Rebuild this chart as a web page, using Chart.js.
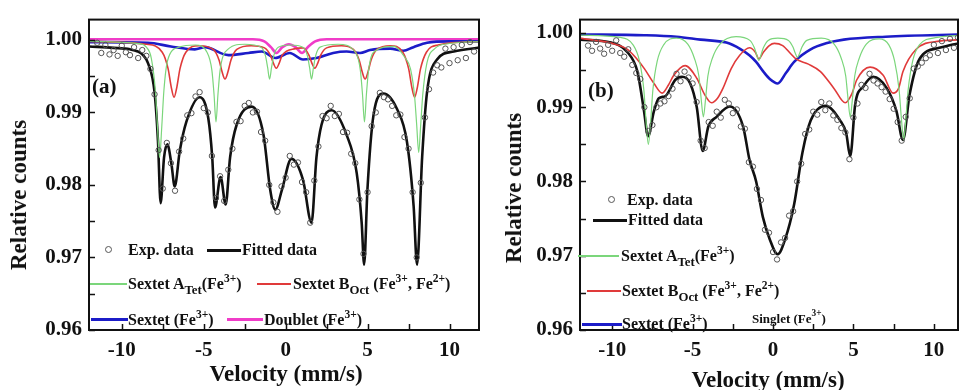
<!DOCTYPE html>
<html>
<head>
<meta charset="utf-8">
<script src="https://cdn.jsdelivr.net/npm/chart.js@4.4.1/dist/chart.umd.min.js"></script>
<style>
  body { margin: 0; width: 963px; height: 390px; background: #fff; position: relative; overflow: hidden;
         font-family: 'Liberation Serif', 'Times New Roman', serif; font-weight: bold; color: #111; }
  .box { position: absolute; top: 0; height: 390px; }
  .txt { position: absolute; font-size: 16px; line-height: 20px; white-space: nowrap; }
  .txt sub { font-size: 80%; vertical-align: -5px; line-height: 0; }
  .txt sup { font-size: 72%; vertical-align: 7px; line-height: 0; }
  .ln { position: absolute; }
  .dot { position: absolute; width: 5px; height: 5px; border: 1px solid #555; border-radius: 50%; }
  .ytitle { position: absolute; font-size: 23px; white-space: nowrap; transform: translate(-50%, -50%) rotate(-90deg); }
  .xtitle { position: absolute; font-size: 23px; white-space: nowrap; transform: translate(-50%, -50%); }
  .tag { position: absolute; font-size: 21px; }
</style>
</head>
<body>
<div class="box" style="left:0;width:490px"><canvas id="chartA"></canvas></div>
<div class="box" style="left:490px;width:473px"><canvas id="chartB"></canvas></div>

<div class="tag" style="left:92px;top:74px">(a)</div>
<div class="tag" style="left:588px;top:78px">(b)</div>
<div class="ytitle" style="left:19px;top:195px">Relative counts</div>
<div class="ytitle" style="left:514px;top:188px">Relative counts</div>
<div class="xtitle" style="left:286px;top:374px">Velocity (mm/s)</div>
<div class="xtitle" style="left:768px;top:380px">Velocity (mm/s)</div>

<!-- legend (a) -->
<div class="dot" style="left:105px;top:246px"></div>
<div class="txt" style="left:128px;top:240px">Exp. data</div>
<div class="ln" style="left:207px;top:249px;width:34px;height:2.5px;background:#111"></div>
<div class="txt" style="left:242px;top:240px">Fitted data</div>
<div class="ln" style="left:90px;top:283px;width:37px;height:1.5px;background:#7bd67b"></div>
<div class="txt" style="left:128px;top:274px">Sextet A<sub>Tet</sub>(Fe<sup>3+</sup>)</div>
<div class="ln" style="left:257px;top:283px;width:34px;height:1.5px;background:#e03a3a"></div>
<div class="txt" style="left:293px;top:274px">Sextet B<sub>Oct</sub> (Fe<sup>3+</sup>, Fe<sup>2+</sup>)</div>
<div class="ln" style="left:91px;top:318px;width:37px;height:3px;background:#1c1cc8"></div>
<div class="txt" style="left:128px;top:310px">Sextet (Fe<sup>3+</sup>)</div>
<div class="ln" style="left:227px;top:318px;width:36px;height:3px;background:#f03cc8"></div>
<div class="txt" style="left:264px;top:310px">Doublet (Fe<sup>3+</sup>)</div>

<!-- legend (b) -->
<div class="dot" style="left:608px;top:196px"></div>
<div class="txt" style="left:627px;top:190px">Exp. data</div>
<div class="ln" style="left:593px;top:219px;width:34px;height:2.5px;background:#111"></div>
<div class="txt" style="left:628px;top:210px">Fitted data</div>
<div class="ln" style="left:578px;top:255px;width:41px;height:1.5px;background:#7bd67b"></div>
<div class="txt" style="left:621px;top:246px">Sextet A<sub>Tet</sub>(Fe<sup>3+</sup>)</div>
<div class="ln" style="left:587px;top:290px;width:34px;height:1.5px;background:#e03a3a"></div>
<div class="txt" style="left:622px;top:281px">Sextet B<sub>Oct</sub> (Fe<sup>3+</sup>, Fe<sup>2+</sup>)</div>
<div class="ln" style="left:582px;top:323px;width:40px;height:3px;background:#1c1cc8"></div>
<div class="txt" style="left:622px;top:314px">Sextet (Fe<sup>3+</sup>)</div>
<div class="txt" style="left:752px;top:309px;font-size:13px">Singlet (Fe<sup>3+</sup>)</div>

<script>
// measured velocity channels (mm/s), shared by both spectra
const expVelocity = [
  -11.5, -11.25, -11, -10.75, -10.5, -10.25, -10, -9.75, -9.5, -9.25, -9, -8.75, -8.5, -8.25, -8, -7.75,
  -7.5, -7.25, -7, -6.75, -6.5, -6.25, -6, -5.75, -5.5, -5.25, -5, -4.75, -4.5, -4.25, -4, -3.75,
  -3.5, -3.25, -3, -2.75, -2.5, -2.25, -2, -1.75, -1.5, -1.25, -1, -0.75, -0.5, -0.25, 0, 0.25,
  0.5, 0.75, 1, 1.25, 1.5, 1.75, 2, 2.25, 2.5, 2.75, 3, 3.25, 3.5, 3.75, 4, 4.25,
  4.5, 4.75, 5, 5.25, 5.5, 5.75, 6, 6.25, 6.5, 6.75, 7, 7.25, 7.5, 7.75, 8, 8.25,
  8.5, 8.75, 9, 9.25, 9.5, 9.75, 10, 10.25, 10.5, 10.75, 11, 11.25, 11.5
];

// (a) spectrum
const expCountsA = [
  0.9996, 0.9982, 0.9993, 0.9980, 0.9986, 0.9978, 0.9992, 0.9983, 0.9979, 0.9990, 0.9975, 0.9986, 0.9978, 0.9960, 0.9925, 0.9848,
  0.9795, 0.9858, 0.9830, 0.9792, 0.9846, 0.9864, 0.9896, 0.9899, 0.9922, 0.9928, 0.9906, 0.9900, 0.9840, 0.9782, 0.9812, 0.9778,
  0.9821, 0.9850, 0.9887, 0.9888, 0.9909, 0.9913, 0.9900, 0.9901, 0.9873, 0.9861, 0.9800, 0.9776, 0.9763, 0.9798, 0.9810, 0.9840,
  0.9828, 0.9831, 0.9804, 0.9790, 0.9748, 0.9806, 0.9853, 0.9895, 0.9892, 0.9909, 0.9895, 0.9898, 0.9873, 0.9872, 0.9843, 0.9830,
  0.9780, 0.9705, 0.9790, 0.9881, 0.9900, 0.9927, 0.9921, 0.9918, 0.9909, 0.9896, 0.9897, 0.9866, 0.9850, 0.9790, 0.9700, 0.9803,
  0.9893, 0.9932, 0.9955, 0.9965, 0.9962, 0.9988, 0.9968, 0.9990, 0.9972, 0.9993, 0.9975, 0.9997, 0.9984
];
const fitA = [
  [-12, 0.9991], [-10.5, 0.9989], [-9.5, 0.9987], [-9.02, 0.9984], [-8.7, 0.9979], [-8.4, 0.9968], [-8.0, 0.9928],
  [-7.79, 0.9860], [-7.63, 0.9775], [-7.42, 0.9838], [-7.22, 0.9856], [-6.97, 0.9829], [-6.77, 0.9798], [-6.46, 0.9847],
  [-6.06, 0.9887], [-5.24, 0.9921], [-4.72, 0.9892], [-4.48, 0.9838], [-4.31, 0.9769], [-3.97, 0.9811], [-3.66, 0.9773],
  [-3.39, 0.9838], [-2.99, 0.9883], [-2.07, 0.9908], [-1.35, 0.9869], [-0.94, 0.9793], [-0.63, 0.9766], [-0.23, 0.9793],
  [0.35, 0.9836], [1.06, 0.9807], [1.58, 0.9748], [1.88, 0.9838], [2.19, 0.9883], [2.80, 0.9903], [3.72, 0.9869],
  [4.34, 0.9816], [4.64, 0.9748], [4.79, 0.9690], [4.99, 0.9793], [5.36, 0.9896], [5.97, 0.9926], [6.79, 0.9905],
  [7.40, 0.9860], [7.81, 0.9771], [8.02, 0.9690], [8.33, 0.9838], [8.63, 0.9928], [9.24, 0.9973], [10.26, 0.9984], [12, 0.9990]
];
const sextetTetA = [
  [-12, 0.9998], [-9, 0.9995], [-8.5, 0.9990], [-8.2, 0.9975], [-7.95, 0.9930], [-7.82, 0.9880], [-7.69, 0.9838],
  [-7.56, 0.9880], [-7.43, 0.9930], [-7.2, 0.9972], [-6.5, 0.9990], [-5.5, 0.9993],
  [-4.8, 0.9983], [-4.5, 0.9958], [-4.37, 0.9925], [-4.25, 0.9887], [-4.13, 0.9925], [-4.0, 0.9958], [-3.7, 0.9983], [-2.5, 0.9994],
  [-1.5, 0.9990], [-1.23, 0.9978], [-1.1, 0.9962], [-0.98, 0.9946], [-0.86, 0.9962], [-0.73, 0.9978], [-0.45, 0.9990], [0.3, 0.9993],
  [1.05, 0.9990], [1.33, 0.9978], [1.46, 0.9962], [1.58, 0.9946], [1.7, 0.9962], [1.83, 0.9978], [2.1, 0.9990], [3.2, 0.9994],
  [4.26, 0.9983], [4.56, 0.9958], [4.69, 0.9925], [4.81, 0.9887], [4.93, 0.9925], [5.06, 0.9958], [5.36, 0.9983], [6.6, 0.9991],
  [7.3, 0.9975], [7.62, 0.9960], [7.87, 0.9922], [8.0, 0.9882], [8.12, 0.9845], [8.24, 0.9882], [8.37, 0.9925], [8.62, 0.9968],
  [9.1, 0.9988], [10, 0.9995], [12, 0.9998]
];
const sextetOctA = [
  [-12, 0.9998], [-8.5, 0.9994], [-7.53, 0.9983], [-7.17, 0.9960], [-6.99, 0.9936], [-6.81, 0.9921], [-6.63, 0.9936],
  [-6.45, 0.9960], [-6.09, 0.9983], [-5.3, 0.9992],
  [-4.42, 0.9987], [-4.06, 0.9972], [-3.88, 0.9956], [-3.70, 0.9946], [-3.52, 0.9956], [-3.34, 0.9972], [-2.98, 0.9987], [-2.1, 0.9992],
  [-1.29, 0.9989], [-0.93, 0.9979], [-0.75, 0.9968], [-0.57, 0.9961], [-0.39, 0.9968], [-0.21, 0.9979], [0.6, 0.9988],
  [1.06, 0.9989], [1.42, 0.9979], [1.6, 0.9968], [1.78, 0.9961], [1.96, 0.9968], [2.14, 0.9979], [2.5, 0.9989], [3.4, 0.9992],
  [4.13, 0.9987], [4.49, 0.9972], [4.67, 0.9956], [4.85, 0.9946], [5.03, 0.9956], [5.21, 0.9972], [5.57, 0.9987], [6.4, 0.9992],
  [7.15, 0.9983], [7.51, 0.9960], [7.69, 0.9936], [7.87, 0.9921], [8.05, 0.9936], [8.23, 0.9960], [8.59, 0.9983],
  [9.3, 0.9993], [12, 0.9998]
];
const sextetFe3A = [
  [-12, 0.9997], [-8.4, 0.9996], [-7.0, 0.9991], [-5.54, 0.9987], [-4.93, 0.9990], [-3.5, 0.9979], [-2.27, 0.9982],
  [-1.45, 0.9984], [-0.63, 0.9975], [0.25, 0.9982], [1.06, 0.9973], [1.88, 0.9975], [2.9, 0.9982], [3.72, 0.9984],
  [4.54, 0.9982], [5.15, 0.9986], [6.38, 0.9988], [7.18, 0.9985], [7.8, 0.9990], [8.63, 0.9996], [10, 0.9998], [12, 0.9998]
];
const doubletA = [
  [-12, 1.0001], [-2, 1.0001], [-1.3, 0.9998], [-0.9, 0.9990], [-0.55, 0.9982], [-0.2, 0.9990], [0.2, 0.9994],
  [0.6, 0.9990], [1.0, 0.9982], [1.35, 0.9990], [1.8, 0.9998], [2.5, 1.0001], [12, 1.0001]
];

// (b) spectrum
const expCountsB = [
  0.9983, 0.9976, 0.9988, 0.9979, 0.9972, 0.9984, 0.9976, 0.9990, 0.9973, 0.9968, 0.9978, 0.9957, 0.9946, 0.9938, 0.9900, 0.9868,
  0.9876, 0.9900, 0.9905, 0.9908, 0.9915, 0.9925, 0.9945, 0.9935, 0.9948, 0.9940, 0.9932, 0.9907, 0.9855, 0.9845, 0.9880, 0.9875,
  0.9894, 0.9886, 0.9910, 0.9905, 0.9892, 0.9897, 0.9874, 0.9871, 0.9826, 0.9820, 0.9790, 0.9775, 0.9735, 0.9731, 0.9705, 0.9695,
  0.9718, 0.9724, 0.9754, 0.9760, 0.9800, 0.9824, 0.9864, 0.9870, 0.9894, 0.9890, 0.9907, 0.9896, 0.9905, 0.9889, 0.9883, 0.9872,
  0.9866, 0.9830, 0.9886, 0.9905, 0.9930, 0.9926, 0.9945, 0.9936, 0.9932, 0.9927, 0.9921, 0.9911, 0.9898, 0.9880, 0.9855, 0.9887,
  0.9912, 0.9952, 0.9955, 0.9960, 0.9966, 0.9970, 0.9984, 0.9973, 0.9989, 0.9977, 0.9992, 0.9980, 0.9994
];
const fitB = [
  [-12, 0.9991], [-10.07, 0.9987], [-9.05, 0.9974], [-8.43, 0.9948], [-8.02, 0.9895], [-7.77, 0.9861], [-7.40, 0.9895],
  [-7.10, 0.9912], [-6.69, 0.9915], [-6.07, 0.9937], [-5.66, 0.9941], [-5.15, 0.9932], [-4.74, 0.9900], [-4.37, 0.9841],
  [-4.02, 0.9874], [-3.51, 0.9887], [-2.69, 0.9901], [-1.86, 0.9874], [-1.47, 0.9830], [-1.05, 0.9800], [-0.63, 0.9752],
  [-0.2, 0.9722], [0.29, 0.9702], [0.75, 0.9722], [1.31, 0.9769], [1.83, 0.9839], [2.34, 0.9882], [3.26, 0.9902],
  [4.18, 0.9882], [4.55, 0.9865], [4.80, 0.9834], [5.11, 0.9904], [5.62, 0.9928], [6.23, 0.9941], [7.06, 0.9926],
  [7.67, 0.9895], [8.08, 0.9856], [8.49, 0.9917], [9.11, 0.9965], [10.34, 0.9980], [12, 0.9988]
];
const sextetTetB = [
  [-12, 0.9997], [-9.5, 0.9994], [-8.7, 0.9984], [-8.3, 0.9962], [-8.03, 0.9923], [-7.89, 0.9880], [-7.75, 0.9850],
  [-7.61, 0.9880], [-7.47, 0.9923], [-7.2, 0.9962], [-6.8, 0.9984], [-6.0, 0.9993],
  [-5.3, 0.9985], [-4.89, 0.9966], [-4.61, 0.9942], [-4.47, 0.9912], [-4.33, 0.9887], [-4.19, 0.9912], [-4.05, 0.9942],
  [-3.77, 0.9966], [-3.3, 0.9985], [-2.3, 0.9995],
  [-1.44, 0.9990], [-1.16, 0.9980], [-1.02, 0.9971], [-0.88, 0.9963], [-0.74, 0.9971], [-0.6, 0.9980], [-0.3, 0.9990], [0.3, 0.9993],
  [0.96, 0.9990], [1.24, 0.9981], [1.38, 0.9973], [1.52, 0.9967], [1.66, 0.9973], [1.8, 0.9981], [2.1, 0.9990], [3.0, 0.9993],
  [3.8, 0.9985], [4.24, 0.9966], [4.52, 0.9942], [4.66, 0.9912], [4.80, 0.9887], [4.94, 0.9912], [5.08, 0.9942],
  [5.36, 0.9966], [5.8, 0.9985], [6.6, 0.9992],
  [7.2, 0.9984], [7.56, 0.9962], [7.84, 0.9923], [7.98, 0.9885], [8.12, 0.9856], [8.26, 0.9885], [8.4, 0.9923],
  [8.68, 0.9962], [9.1, 0.9984], [10.2, 0.9994], [12, 0.9997]
];
const sextetOctB = [
  [-12, 0.9993], [-10, 0.9986], [-9.05, 0.9978], [-8.5, 0.9966], [-8.0, 0.9952], [-7.4, 0.9932], [-6.89, 0.9919],
  [-6.5, 0.9930], [-6.17, 0.9943], [-5.46, 0.9956], [-4.74, 0.9939], [-4.25, 0.9917], [-3.82, 0.9906], [-3.45, 0.9912],
  [-3.10, 0.9926], [-2.6, 0.9952], [-2.07, 0.9970], [-1.46, 0.9980], [-1.1, 0.9974], [-0.88, 0.9965], [-0.6, 0.9974],
  [-0.23, 0.9983], [0.08, 0.9986], [0.6, 0.9983], [1.1, 0.9972], [1.42, 0.9965], [2.2, 0.9958], [2.95, 0.9948],
  [3.8, 0.9925], [4.49, 0.9906], [4.9, 0.9918], [5.21, 0.9937], [6.03, 0.9954], [6.85, 0.9943], [7.46, 0.9919],
  [7.8, 0.9925], [8.08, 0.9948], [8.9, 0.9978], [10.34, 0.9989], [12, 0.9991]
];
const sextetFe3B = [
  [-12, 0.9998], [-8, 0.9997], [-6, 0.9995], [-4.5, 0.9991], [-2.9, 0.9987], [-2.0, 0.9978], [-1.47, 0.9970],
  [-1.05, 0.9961], [-0.6, 0.9948], [-0.2, 0.9938], [0.29, 0.9932], [0.8, 0.9946], [1.31, 0.9961], [2.34, 0.9978],
  [3.3, 0.9986], [4.4, 0.9991], [7, 0.9995], [12, 0.9998]
];

const velTicks = [-10, -5, 0, 5, 10];
const countTicks = [0.96, 0.97, 0.98, 0.99, 1.00];

const pts = arr => arr.map(p => ({ x: p[0], y: p[1] }));
const expPts = counts => expVelocity.map((v, i) => ({ x: v, y: counts[i] }));

// inward ticks and closed frame
const frameTicks = {
  id: 'frameTicks',
  afterDraw(chart) {
    const { ctx, chartArea: a, scales: { x, y } } = chart;
    ctx.save();
    ctx.strokeStyle = '#111';
    ctx.lineWidth = 1.5;
    ctx.beginPath();
    y.ticks.forEach(t => {
      if (Math.abs(Math.round(t.value * 200) - t.value * 200) > 1e-6) return;
      const py = Math.round(y.getPixelForValue(t.value)) + 0.5;
      ctx.moveTo(a.left, py); ctx.lineTo(a.left + 6, py);
    });
    x.ticks.forEach(t => {
      if (Math.abs(Math.round(t.value / 2.5) - t.value / 2.5) > 1e-6) return;
      const px = Math.round(x.getPixelForValue(t.value)) + 0.5;
      ctx.moveTo(px, a.bottom); ctx.lineTo(px, a.bottom - 6);
    });
    ctx.stroke();
    ctx.lineWidth = 2;
    ctx.strokeRect(a.left, a.top, a.right - a.left, a.bottom - a.top);
    ctx.restore();
  }
};

const tickFont = { family: "'Liberation Serif', serif", weight: 'bold', size: 21 };

function makeChart(id, exp, fit, tet, oct, fe3, extra, yMax, xMax, yWidth, pad) {
  const lineSet = (data, color, width) => ({
    type: 'line', data: pts(data), borderColor: color, borderWidth: width, pointRadius: 0,
    cubicInterpolationMode: 'monotone', fill: false
  });
  const datasets = [
    { label: 'Exp. data', data: expPts(exp), showLine: false, pointRadius: 2.7, pointBorderWidth: 1,
      pointBorderColor: '#555', pointBackgroundColor: 'rgba(255,255,255,0)' },
    lineSet(tet, '#7bd67b', 1.2),
    lineSet(oct, '#e03a3a', 1.6),
    lineSet(fe3, '#1c1cc8', 2.6)
  ];
  if (extra) datasets.push(lineSet(extra, '#f03cc8', 2.6));
  datasets.push(lineSet(fit, '#111', 2.6));

  return new Chart(document.getElementById(id), {
    type: 'scatter',
    data: { datasets },
    options: {
      responsive: true,
      maintainAspectRatio: false,
      animation: false,
      layout: { padding: pad },
      plugins: { legend: { display: false }, tooltip: { enabled: false } },
      scales: {
        x: {
          type: 'linear', min: -12, max: xMax,
          grid: { display: false, drawTicks: false },
          border: { display: false },
          afterFit: s => { s.height = 60; },
          ticks: {
            stepSize: 2.5, includeBounds: false, autoSkip: false, maxRotation: 0, padding: 8,
            font: tickFont, color: '#111',
            callback: v => velTicks.includes(Math.round(v * 100) / 100) ? String(Math.round(v)) : ''
          }
        },
        y: {
          type: 'linear', min: 0.96, max: yMax,
          grid: { display: false, drawTicks: false },
          border: { display: false },
          afterFit: s => { s.width = yWidth; },
          ticks: {
            stepSize: 0.005, includeBounds: false, autoSkip: false, padding: 7,
            font: tickFont, color: '#111',
            callback: v => {
              const r = Math.round(v * 1000) / 1000;
              return countTicks.some(c => Math.abs(c - r) < 1e-6) ? r.toFixed(2) : '';
            }
          }
        }
      }
    },
    plugins: [frameTicks]
  });
}

makeChart('chartA', expCountsA, fitA, sextetTetA, sextetOctA, sextetFe3A, doubletA,
  1.0028, 11.8, 89, { top: 12, right: 11, left: 0, bottom: 0 });
makeChart('chartB', expCountsB, fitB, sextetTetB, sextetOctB, sextetFe3B, null,
  1.0018, 11.5, 90, { top: 11, right: 0, left: 0, bottom: 0 });
</script>
</body>
</html>
